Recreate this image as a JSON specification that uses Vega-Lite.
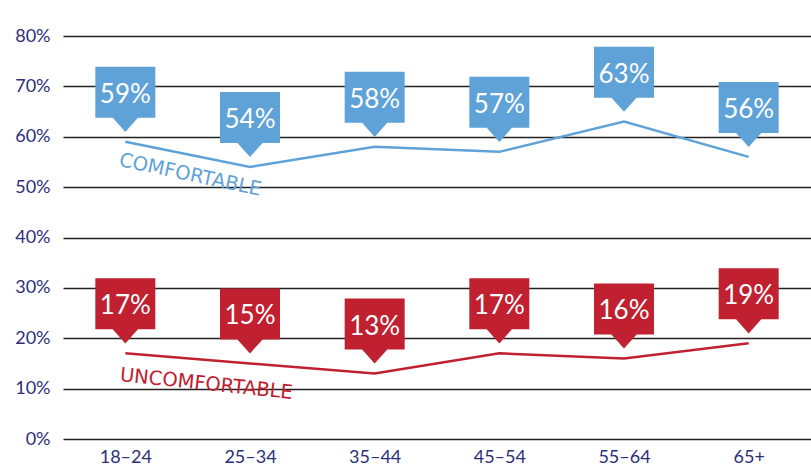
{
  "$schema": "https://vega.github.io/schema/vega-lite/v6.json",
  "autosize": {"type": "none"},
  "width": 748,
  "height": 403,
  "padding": {"left": 63, "top": 36, "right": 0, "bottom": 31},
  "background": "white",
  "config": {"view": {"stroke": null}, "font": "Lato"},
  "data": {"values": [
    {"age": "18–24", "attitude": "Comfortable", "value": 59},
    {"age": "25–34", "attitude": "Comfortable", "value": 54},
    {"age": "35–44", "attitude": "Comfortable", "value": 58},
    {"age": "45–54", "attitude": "Comfortable", "value": 57},
    {"age": "55–64", "attitude": "Comfortable", "value": 63},
    {"age": "65+", "attitude": "Comfortable", "value": 56},
    {"age": "18–24", "attitude": "Uncomfortable", "value": 17},
    {"age": "25–34", "attitude": "Uncomfortable", "value": 15},
    {"age": "35–44", "attitude": "Uncomfortable", "value": 13},
    {"age": "45–54", "attitude": "Uncomfortable", "value": 17},
    {"age": "55–64", "attitude": "Uncomfortable", "value": 16},
    {"age": "65+", "attitude": "Uncomfortable", "value": 19}
  ]},
  "encoding": {
    "x": {"field": "age", "type": "nominal", "sort": null,
      "scale": {"paddingInner": 0, "paddingOuter": 0},
      "axis": {"title": null, "labelAngle": 0, "domain": false, "ticks": false, "labelFontSize": 18, "labelColor": "#2b2f7a", "labelPadding": 9}},
    "y": {"field": "value", "type": "quantitative",
      "scale": {"domain": [0, 80]},
      "axis": {"title": null, "values": [0,10,20,30,40,50,60,70,80], "labelExpr": "datum.value + '%'", "domain": false, "ticks": false, "gridColor": "#222222", "gridWidth": 1.3, "gridOpacity": 1, "labelFontSize": 18, "labelColor": "#2b2f7a", "labelPadding": 13}},
    "color": {"field": "attitude", "type": "nominal", "legend": null,
      "scale": {"domain": ["Comfortable", "Uncomfortable"], "range": ["#5fa2d7", "#c0202f"]}}
  },
  "layer": [
    {"mark": {"type": "line", "strokeWidth": 2.5}},
    {"mark": {"type": "point", "filled": true, "opacity": 1, "size": 3600,
      "shape": "M-1,-2.5 L1,-2.5 L1,-0.8 L0.42,-0.8 L0,-0.33 L-0.42,-0.8 L-1,-0.8 Z"}},
    {"transform": [{"calculate": "datum.value + '%'", "as": "label"}],
      "mark": {"type": "text", "dy": -47, "fontSize": 26, "baseline": "middle", "align": "center"},
      "encoding": {"text": {"field": "label", "type": "nominal"}, "color": {"value": "white"}}},
    {"transform": [{"filter": "datum.age == '18–24' && datum.attitude == 'Comfortable'"}],
      "mark": {"type": "text", "text": "COMFORTABLE", "font": "DejaVu Sans", "align": "left", "baseline": "alphabetic", "angle": 12, "fontSize": 19.5, "dx": -2, "dy": 25}},
    {"transform": [{"filter": "datum.age == '18–24' && datum.attitude == 'Uncomfortable'"}],
      "mark": {"type": "text", "text": "UNCOMFORTABLE", "font": "DejaVu Sans", "align": "left", "baseline": "alphabetic", "angle": 6, "fontSize": 19.5, "dx": -3, "dy": 28}}
  ]
}
